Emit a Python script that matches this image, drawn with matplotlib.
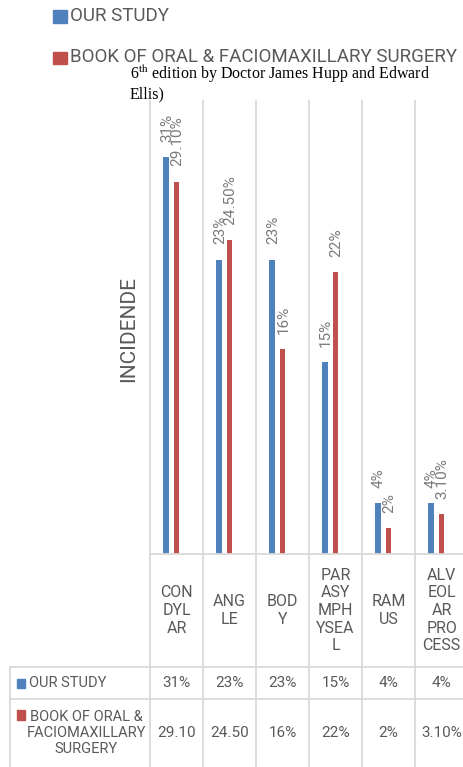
import matplotlib
matplotlib.use("Agg")
import matplotlib.pyplot as plt
from matplotlib.patches import Rectangle
import numpy as np

categories = ["CONDYLAR", "ANGLE", "BODY", "PARASYMPHYSEAL", "RAMUS", "ALVEOLAR PROCESS"]
header_wrapped = ["CON\nDYL\nAR", "ANG\nLE", "BOD\nY", "PAR\nASY\nMPH\nYSEA\nL", "RAM\nUS",
                  "ALV\nEOL\nAR\nPRO\nCESS"]
our_study = [31, 23, 23, 15, 4, 4]
book = [29.1, 24.5, 16, 22, 2, 3.1]
our_labels = ["31%", "23%", "23%", "15%", "4%", "4%"]
book_labels = ["29.10%", "24.50%", "16%", "22%", "2%", "3.10%"]
book_table = ["29.10", "24.50", "16%", "22%", "2%", "3.10%"]
series_names = ["OUR STUDY", "BOOK OF ORAL & FACIOMAXILLARY SURGERY"]
book_row_name = "BOOK OF ORAL &\nFACIOMAXILLARY\nSURGERY"

BLUE = "#4f81bd"
RED = "#c0504d"
GREY = "#595959"
LABEL_GREY = "#7a7a7a"
GRID = "#d9d9d9"
SANS = ["Roboto", "DejaVu Sans"]
plt.rcParams["mathtext.fontset"] = "stix"

W, H = 463, 767
fig = plt.figure(figsize=(W / 100, H / 100), dpi=100)

# main plot area, one category = 53 px
base_y = 554
top_y = 106
cat_w = 53
left_x = 150
ax = fig.add_axes([left_x / W, (H - base_y) / H, 6 * cat_w / W, (base_y - top_y) / H])
x = np.arange(len(categories))
ax.bar(x - 0.2, our_study, width=0.105, color=BLUE, zorder=3)
ax.bar(x, book, width=0.11, color=RED, zorder=3)
ax.set_xlim(-0.5, 5.5)
ax.set_ylim(0, 35)
for b in np.arange(-0.5, 6.0, 1.0):
    ax.plot([b, b], [0, 35.4], color=GRID, lw=1.3, clip_on=False, zorder=1)
for s in ax.spines.values():
    s.set_visible(False)
ax.set_xticks([])
ax.set_yticks([])

for i in range(len(categories)):
    ax.annotate(our_labels[i], (x[i] - 0.18, our_study[i]), xytext=(0, 11), textcoords="offset points",
                rotation=90, ha="center", va="bottom", color=LABEL_GREY, fontsize=11, family=SANS)
    ax.annotate(book_labels[i], (x[i] + 0.02, book[i]), xytext=(0, 11), textcoords="offset points",
                rotation=90, ha="center", va="bottom", color=LABEL_GREY, fontsize=11, family=SANS)

fig.text(129 / W, 1 - 329 / H, "INCIDENDE", rotation=90, ha="center", va="center",
         color=GREY, fontsize=15, family=SANS)

# legend on top
def px_rect(x0, y0, w, h, color):
    fig.patches.append(Rectangle((x0 / W, 1 - (y0 + h) / H), w / W, h / H, color=color,
                                 transform=fig.transFigure, figure=fig))

px_rect(53, 10, 14, 13, BLUE)
px_rect(53, 52, 14, 12, RED)
fig.text(70 / W, 1 - 16 / H, series_names[0], ha="left", va="center", color=GREY,
         fontsize=13.5, family=SANS)
fig.text(70 / W, 1 - 57 / H, series_names[1], ha="left", va="center", color=GREY,
         fontsize=13.5, family=SANS)
fig.text(130 / W, 1 - 79 / H, r"6$^{\mathrm{th}}$ edition by Doctor James Hupp and Edward",
         ha="left", va="baseline", color="black", fontsize=11.5, family="Liberation Serif")
fig.text(130 / W, 1 - 98 / H, "Ellis)", ha="left", va="baseline", color="black",
         fontsize=11.5, family="Liberation Serif")

# data table under the bars, y in px below the baseline
tax = fig.add_axes([left_x / W, 0, 6 * cat_w / W, (H - base_y) / H])
tax.set_xlim(-0.5, 5.5)
tax.set_ylim(H - base_y, 0)
tax.axis("off")
col0 = -0.5 - 140 / cat_w
row1, row2 = 113, 145
lw = 1.3
tax.plot([-0.5, 5.5], [0, 0], color=GRID, lw=lw, clip_on=False)
tax.plot([col0, 5.5], [row1, row1], color=GRID, lw=lw, clip_on=False)
tax.plot([col0, 5.5], [row2, row2], color=GRID, lw=lw, clip_on=False)
tax.plot([col0, col0], [row1, H - base_y], color=GRID, lw=lw, clip_on=False)
for b in np.arange(-0.5, 6.0, 1.0):
    tax.plot([b, b], [0, H - base_y], color=GRID, lw=lw, clip_on=False)

for i in range(len(categories)):
    tax.text(x[i], row1 / 2, header_wrapped[i], ha="center", va="center", color=GREY,
             fontsize=11.5, family=SANS, linespacing=1.22)
    tax.text(x[i], (row1 + row2) / 2, our_labels[i], ha="center", va="center", color=GREY,
             fontsize=11, family=SANS)
    tax.text(x[i], 179, book_table[i], ha="center", va="center", color=GREY,
             fontsize=11, family=SANS)

px_rect(17, 679, 8, 9, BLUE)
px_rect(17, 710, 8, 10, RED)
fig.text(29 / W, 1 - 683 / H, series_names[0], ha="left", va="center", color=GREY,
         fontsize=10.5, family=SANS)
fig.text(86 / W, 1 - 733 / H, book_row_name, ha="center", va="center", color=GREY,
         fontsize=10.5, family=SANS, multialignment="center", linespacing=1.2)

plt.savefig("out.png", dpi=100)
